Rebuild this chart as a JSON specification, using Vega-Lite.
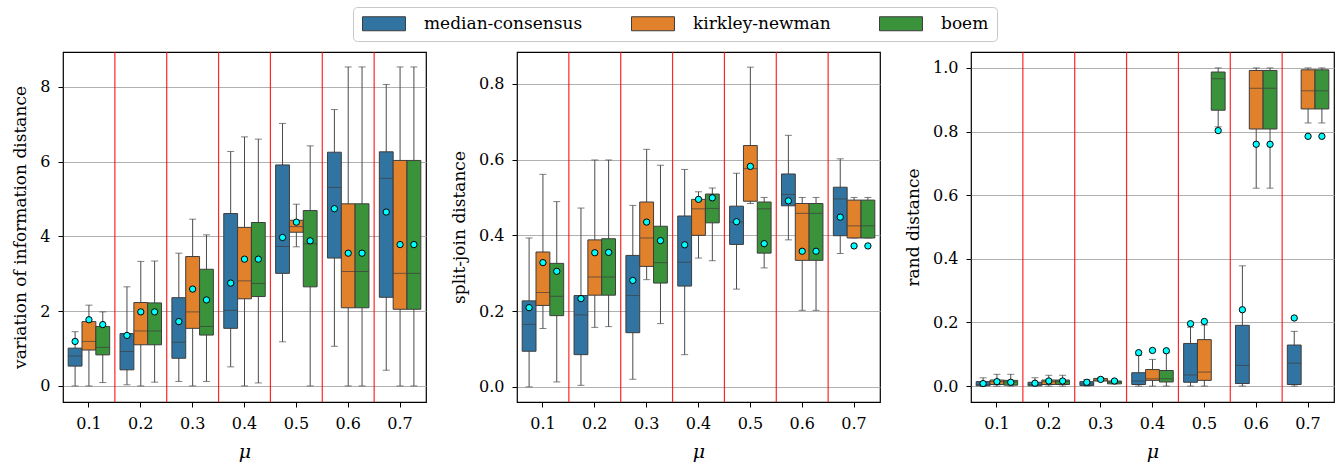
{
"$schema": "https://vega.github.io/schema/vega-lite/v6.json",
"padding": {"left": 11, "top": 6, "right": 2, "bottom": 3},
"bounds": "flush",
"spacing": 91,
"datasets": {
"sep": [{"mu":"0.1"},{"mu":"0.2"},{"mu":"0.3"},{"mu":"0.4"},{"mu":"0.5"},{"mu":"0.6"}],
"vi": [
{"mu":"0.1","method":"median-consensus","lo":0,"q1":0.53,"med":0.80,"q3":1.01,"hi":1.45,"mean":1.19},
{"mu":"0.1","method":"kirkley-newman","lo":0,"q1":0.96,"med":1.19,"q3":1.72,"hi":2.16,"mean":1.77},
{"mu":"0.1","method":"boem","lo":0.09,"q1":0.83,"med":1.03,"q3":1.59,"hi":1.98,"mean":1.64},
{"mu":"0.2","method":"median-consensus","lo":0.03,"q1":0.43,"med":0.92,"q3":1.40,"hi":2.65,"mean":1.35},
{"mu":"0.2","method":"kirkley-newman","lo":0,"q1":1.10,"med":1.47,"q3":2.23,"hi":3.33,"mean":1.98},
{"mu":"0.2","method":"boem","lo":0.10,"q1":1.10,"med":1.47,"q3":2.22,"hi":3.34,"mean":1.98},
{"mu":"0.3","method":"median-consensus","lo":0.12,"q1":0.74,"med":1.17,"q3":2.36,"hi":3.55,"mean":1.72},
{"mu":"0.3","method":"kirkley-newman","lo":0,"q1":1.54,"med":1.98,"q3":3.46,"hi":4.46,"mean":2.59},
{"mu":"0.3","method":"boem","lo":0.12,"q1":1.36,"med":1.59,"q3":3.12,"hi":4.04,"mean":2.30},
{"mu":"0.4","method":"median-consensus","lo":0.51,"q1":1.54,"med":2.02,"q3":4.61,"hi":6.27,"mean":2.75},
{"mu":"0.4","method":"kirkley-newman","lo":0,"q1":2.33,"med":2.81,"q3":4.24,"hi":6.66,"mean":3.39},
{"mu":"0.4","method":"boem","lo":0.08,"q1":2.39,"med":2.74,"q3":4.37,"hi":6.60,"mean":3.39},
{"mu":"0.5","method":"median-consensus","lo":1.18,"q1":3.01,"med":3.73,"q3":5.91,"hi":7.02,"mean":3.97},
{"mu":"0.5","method":"kirkley-newman","lo":3.72,"q1":4.11,"med":4.26,"q3":4.43,"hi":4.86,"mean":4.38},
{"mu":"0.5","method":"boem","lo":0,"q1":2.65,"med":3.80,"q3":4.69,"hi":6.42,"mean":3.88},
{"mu":"0.6","method":"median-consensus","lo":1.06,"q1":3.42,"med":5.31,"q3":6.25,"hi":7.39,"mean":4.74},
{"mu":"0.6","method":"kirkley-newman","lo":0,"q1":2.09,"med":3.06,"q3":4.87,"hi":8.53,"mean":3.55},
{"mu":"0.6","method":"boem","lo":0,"q1":2.09,"med":3.06,"q3":4.87,"hi":8.53,"mean":3.55},
{"mu":"0.7","method":"median-consensus","lo":0.42,"q1":2.37,"med":5.55,"q3":6.26,"hi":8.06,"mean":4.65},
{"mu":"0.7","method":"kirkley-newman","lo":0,"q1":2.05,"med":3.01,"q3":6.03,"hi":8.53,"mean":3.78},
{"mu":"0.7","method":"boem","lo":0,"q1":2.05,"med":3.01,"q3":6.03,"hi":8.53,"mean":3.78}
],
"sj": [
{"mu":"0.1","method":"median-consensus","lo":0,"q1":0.094,"med":0.165,"q3":0.227,"hi":0.393,"mean":0.209},
{"mu":"0.1","method":"kirkley-newman","lo":0.154,"q1":0.215,"med":0.249,"q3":0.356,"hi":0.561,"mean":0.328},
{"mu":"0.1","method":"boem","lo":0.013,"q1":0.188,"med":0.239,"q3":0.326,"hi":0.489,"mean":0.305},
{"mu":"0.2","method":"median-consensus","lo":0.004,"q1":0.085,"med":0.190,"q3":0.241,"hi":0.472,"mean":0.233},
{"mu":"0.2","method":"kirkley-newman","lo":0.157,"q1":0.242,"med":0.290,"q3":0.388,"hi":0.599,"mean":0.354},
{"mu":"0.2","method":"boem","lo":0.159,"q1":0.242,"med":0.290,"q3":0.391,"hi":0.599,"mean":0.355},
{"mu":"0.3","method":"median-consensus","lo":0.020,"q1":0.143,"med":0.241,"q3":0.347,"hi":0.479,"mean":0.281},
{"mu":"0.3","method":"kirkley-newman","lo":0.283,"q1":0.318,"med":0.393,"q3":0.488,"hi":0.627,"mean":0.435},
{"mu":"0.3","method":"boem","lo":0.167,"q1":0.274,"med":0.328,"q3":0.424,"hi":0.585,"mean":0.386},
{"mu":"0.4","method":"median-consensus","lo":0.085,"q1":0.266,"med":0.329,"q3":0.451,"hi":0.574,"mean":0.375},
{"mu":"0.4","method":"kirkley-newman","lo":0.340,"q1":0.400,"med":0.470,"q3":0.495,"hi":0.515,"mean":0.495},
{"mu":"0.4","method":"boem","lo":0.333,"q1":0.433,"med":0.471,"q3":0.509,"hi":0.525,"mean":0.499},
{"mu":"0.5","method":"median-consensus","lo":0.258,"q1":0.376,"med":0.435,"q3":0.477,"hi":0.564,"mean":0.436},
{"mu":"0.5","method":"kirkley-newman","lo":0.484,"q1":0.490,"med":0.576,"q3":0.637,"hi":0.844,"mean":0.582},
{"mu":"0.5","method":"boem","lo":0.314,"q1":0.353,"med":0.470,"q3":0.488,"hi":0.500,"mean":0.378},
{"mu":"0.6","method":"median-consensus","lo":0.388,"q1":0.478,"med":0.508,"q3":0.562,"hi":0.664,"mean":0.491},
{"mu":"0.6","method":"kirkley-newman","lo":0.202,"q1":0.334,"med":0.458,"q3":0.484,"hi":0.500,"mean":0.358},
{"mu":"0.6","method":"boem","lo":0.202,"q1":0.334,"med":0.458,"q3":0.484,"hi":0.500,"mean":0.358},
{"mu":"0.7","method":"median-consensus","lo":0.352,"q1":0.399,"med":0.496,"q3":0.527,"hi":0.602,"mean":0.448},
{"mu":"0.7","method":"kirkley-newman","lo":0.393,"q1":0.393,"med":0.425,"q3":0.493,"hi":0.500,"mean":0.372},
{"mu":"0.7","method":"boem","lo":0.393,"q1":0.393,"med":0.425,"q3":0.493,"hi":0.500,"mean":0.372}
],
"rd": [
{"mu":"0.1","method":"median-consensus","lo":0,"q1":0.001,"med":0.005,"q3":0.014,"hi":0.026,"mean":0.008},
{"mu":"0.1","method":"kirkley-newman","lo":0,"q1":0.005,"med":0.014,"q3":0.019,"hi":0.037,"mean":0.014},
{"mu":"0.1","method":"boem","lo":0,"q1":0.003,"med":0.013,"q3":0.018,"hi":0.037,"mean":0.012},
{"mu":"0.2","method":"median-consensus","lo":0,"q1":0.001,"med":0.005,"q3":0.012,"hi":0.026,"mean":0.009},
{"mu":"0.2","method":"kirkley-newman","lo":0,"q1":0.005,"med":0.014,"q3":0.019,"hi":0.034,"mean":0.016},
{"mu":"0.2","method":"boem","lo":0,"q1":0.005,"med":0.014,"q3":0.019,"hi":0.034,"mean":0.016},
{"mu":"0.3","method":"median-consensus","lo":0,"q1":0.002,"med":0.007,"q3":0.014,"hi":0.020,"mean":0.012},
{"mu":"0.3","method":"kirkley-newman","lo":0.016,"q1":0.016,"med":0.019,"q3":0.024,"hi":0.026,"mean":0.021},
{"mu":"0.3","method":"boem","lo":0.007,"q1":0.007,"med":0.012,"q3":0.016,"hi":0.019,"mean":0.016},
{"mu":"0.4","method":"median-consensus","lo":0,"q1":0.005,"med":0.016,"q3":0.042,"hi":0.097,"mean":0.105},
{"mu":"0.4","method":"kirkley-newman","lo":0,"q1":0.018,"med":0.023,"q3":0.052,"hi":0.084,"mean":0.112},
{"mu":"0.4","method":"boem","lo":0,"q1":0.013,"med":0.023,"q3":0.049,"hi":0.105,"mean":0.111},
{"mu":"0.5","method":"median-consensus","lo":0,"q1":0.012,"med":0.035,"q3":0.134,"hi":0.185,"mean":0.196},
{"mu":"0.5","method":"kirkley-newman","lo":0,"q1":0.018,"med":0.044,"q3":0.146,"hi":0.192,"mean":0.203},
{"mu":"0.5","method":"boem","lo":0.815,"q1":0.867,"med":0.966,"q3":0.987,"hi":1.0,"mean":0.803},
{"mu":"0.6","method":"median-consensus","lo":0,"q1":0.008,"med":0.065,"q3":0.191,"hi":0.378,"mean":0.240},
{"mu":"0.6","method":"kirkley-newman","lo":0.622,"q1":0.808,"med":0.936,"q3":0.992,"hi":1.0,"mean":0.760},
{"mu":"0.6","method":"boem","lo":0.622,"q1":0.808,"med":0.936,"q3":0.992,"hi":1.0,"mean":0.760},
{"mu":"0.7","method":"median-consensus","lo":0,"q1":0.005,"med":0.072,"q3":0.129,"hi":0.172,"mean":0.214},
{"mu":"0.7","method":"kirkley-newman","lo":0.827,"q1":0.871,"med":0.928,"q3":0.994,"hi":1.0,"mean":0.785},
{"mu":"0.7","method":"boem","lo":0.827,"q1":0.871,"med":0.928,"q3":0.994,"hi":1.0,"mean":0.785}
]
},
"hconcat": [
{
"width": 363, "height": 350,
"layer": [
{"data": {"name": "sep"}, "mark": {"type": "rule", "color": "#ff0000", "strokeWidth": 1.2, "opacity": 0.85},
 "encoding": {"x": {"field": "mu", "type": "ordinal", "bandPosition": 1, "title": "μ", "scale": {"domain": ["0.1","0.2","0.3","0.4","0.5","0.6","0.7"], "paddingInner": 0, "paddingOuter": 0}}}},
{"data": {"name": "vi"},
 "encoding": {
  "x": {"field": "mu", "type": "ordinal", "title": "μ", "scale": {"domain": ["0.1","0.2","0.3","0.4","0.5","0.6","0.7"], "paddingInner": 0, "paddingOuter": 0}},
  "xOffset": {"field": "method", "type": "nominal", "scale": {"domain": ["median-consensus","kirkley-newman","boem"], "paddingInner": 0, "paddingOuter": 0.375}}
 },
 "layer": [
  {"mark": {"type": "rule", "color": "#4a4a4a", "strokeWidth": 1}, "encoding": {"y": {"field": "lo", "type": "quantitative", "title": "variation of information distance", "scale": {"domain": [-0.43, 8.93], "nice": false, "zero": false}, "axis": {"values": [0,2,4,6,8]}}, "y2": {"field": "hi"}}},
  {"mark": {"type": "tick", "color": "#4a4a4a", "size": 7, "thickness": 1}, "encoding": {"y": {"field": "lo", "type": "quantitative", "title": "variation of information distance", "scale": {"domain": [-0.43, 8.93], "nice": false, "zero": false}}}},
  {"mark": {"type": "tick", "color": "#4a4a4a", "size": 7, "thickness": 1}, "encoding": {"y": {"field": "hi", "type": "quantitative", "title": "variation of information distance", "scale": {"domain": [-0.43, 8.93], "nice": false, "zero": false}}}},
  {"mark": {"type": "bar", "stroke": "#3d3d3d", "strokeWidth": 1, "opacity": 1}, "encoding": {"y": {"field": "q1", "type": "quantitative", "title": "variation of information distance", "scale": {"domain": [-0.43, 8.93], "nice": false, "zero": false}}, "y2": {"field": "q3"},
    "color": {"field": "method", "type": "nominal", "scale": {"domain": ["median-consensus","kirkley-newman","boem"], "range": ["#3274a1","#e1812c","#3a923a"]}, "legend": {"orient": "none", "legendX": 290, "legendY": -45, "direction": "horizontal", "columns": 3, "title": null, "symbolType": "M-1,-1H5.14V1H-1Z", "symbolSize": 196, "symbolStrokeColor": "#3d3d3d", "symbolStrokeWidth": 1, "symbolOpacity": 1, "labelFont": "DejaVu Serif", "labelFontSize": 17, "labelColor": "black", "labelOffset": 46, "columnPadding": 46, "padding": 8, "strokeColor": "#c8c8c8", "fillColor": "white", "cornerRadius": 4}}}},
  {"mark": {"type": "tick", "color": "#3d3d3d", "size": 13.8, "thickness": 1}, "encoding": {"y": {"field": "med", "type": "quantitative", "title": "variation of information distance", "scale": {"domain": [-0.43, 8.93], "nice": false, "zero": false}}}},
  {"mark": {"type": "point", "filled": true, "fill": "#00ffff", "stroke": "#000000", "strokeWidth": 1, "size": 40, "opacity": 1}, "encoding": {"y": {"field": "mean", "type": "quantitative", "title": "variation of information distance", "scale": {"domain": [-0.43, 8.93], "nice": false, "zero": false}}}}
 ]}
]
},
{
"width": 363, "height": 350,
"layer": [
{"data": {"name": "sep"}, "mark": {"type": "rule", "color": "#ff0000", "strokeWidth": 1.2, "opacity": 0.85},
 "encoding": {"x": {"field": "mu", "type": "ordinal", "bandPosition": 1, "title": "μ", "scale": {"domain": ["0.1","0.2","0.3","0.4","0.5","0.6","0.7"], "paddingInner": 0, "paddingOuter": 0}}}},
{"data": {"name": "sj"},
 "encoding": {
  "x": {"field": "mu", "type": "ordinal", "title": "μ", "scale": {"domain": ["0.1","0.2","0.3","0.4","0.5","0.6","0.7"], "paddingInner": 0, "paddingOuter": 0}},
  "xOffset": {"field": "method", "type": "nominal", "scale": {"domain": ["median-consensus","kirkley-newman","boem"], "paddingInner": 0, "paddingOuter": 0.375}}
 },
 "layer": [
  {"mark": {"type": "rule", "color": "#4a4a4a", "strokeWidth": 1}, "encoding": {"y": {"field": "lo", "type": "quantitative", "title": "split-join distance", "scale": {"domain": [-0.04, 0.884], "nice": false, "zero": false}, "axis": {"values": [0,0.2,0.4,0.6,0.8], "format": ".1f"}}, "y2": {"field": "hi"}}},
  {"mark": {"type": "tick", "color": "#4a4a4a", "size": 7, "thickness": 1}, "encoding": {"y": {"field": "lo", "type": "quantitative", "title": "split-join distance", "scale": {"domain": [-0.04, 0.884], "nice": false, "zero": false}}}},
  {"mark": {"type": "tick", "color": "#4a4a4a", "size": 7, "thickness": 1}, "encoding": {"y": {"field": "hi", "type": "quantitative", "title": "split-join distance", "scale": {"domain": [-0.04, 0.884], "nice": false, "zero": false}}}},
  {"mark": {"type": "bar", "stroke": "#3d3d3d", "strokeWidth": 1, "opacity": 1}, "encoding": {"y": {"field": "q1", "type": "quantitative", "title": "split-join distance", "scale": {"domain": [-0.04, 0.884], "nice": false, "zero": false}}, "y2": {"field": "q3"},
    "color": {"field": "method", "type": "nominal", "scale": {"domain": ["median-consensus","kirkley-newman","boem"], "range": ["#3274a1","#e1812c","#3a923a"]}, "legend": {"orient": "none", "legendX": 290, "legendY": -45, "direction": "horizontal", "columns": 3, "title": null, "symbolType": "M-1,-1H5.14V1H-1Z", "symbolSize": 196, "symbolStrokeColor": "#3d3d3d", "symbolStrokeWidth": 1, "symbolOpacity": 1, "labelFont": "DejaVu Serif", "labelFontSize": 17, "labelColor": "black", "labelOffset": 46, "columnPadding": 46, "padding": 8, "strokeColor": "#c8c8c8", "fillColor": "white", "cornerRadius": 4}}}},
  {"mark": {"type": "tick", "color": "#3d3d3d", "size": 13.8, "thickness": 1}, "encoding": {"y": {"field": "med", "type": "quantitative", "title": "split-join distance", "scale": {"domain": [-0.04, 0.884], "nice": false, "zero": false}}}},
  {"mark": {"type": "point", "filled": true, "fill": "#00ffff", "stroke": "#000000", "strokeWidth": 1, "size": 40, "opacity": 1}, "encoding": {"y": {"field": "mean", "type": "quantitative", "title": "split-join distance", "scale": {"domain": [-0.04, 0.884], "nice": false, "zero": false}}}}
 ]}
]
},
{
"width": 363, "height": 350,
"layer": [
{"data": {"name": "sep"}, "mark": {"type": "rule", "color": "#ff0000", "strokeWidth": 1.2, "opacity": 0.85},
 "encoding": {"x": {"field": "mu", "type": "ordinal", "bandPosition": 1, "title": "μ", "scale": {"domain": ["0.1","0.2","0.3","0.4","0.5","0.6","0.7"], "paddingInner": 0, "paddingOuter": 0}}}},
{"data": {"name": "rd"},
 "encoding": {
  "x": {"field": "mu", "type": "ordinal", "title": "μ", "scale": {"domain": ["0.1","0.2","0.3","0.4","0.5","0.6","0.7"], "paddingInner": 0, "paddingOuter": 0}},
  "xOffset": {"field": "method", "type": "nominal", "scale": {"domain": ["median-consensus","kirkley-newman","boem"], "paddingInner": 0, "paddingOuter": 0.375}}
 },
 "layer": [
  {"mark": {"type": "rule", "color": "#4a4a4a", "strokeWidth": 1}, "encoding": {"y": {"field": "lo", "type": "quantitative", "title": "rand distance", "scale": {"domain": [-0.05, 1.05], "nice": false, "zero": false}, "axis": {"values": [0,0.2,0.4,0.6,0.8,1.0], "format": ".1f"}}, "y2": {"field": "hi"}}},
  {"mark": {"type": "tick", "color": "#4a4a4a", "size": 7, "thickness": 1}, "encoding": {"y": {"field": "lo", "type": "quantitative", "title": "rand distance", "scale": {"domain": [-0.05, 1.05], "nice": false, "zero": false}}}},
  {"mark": {"type": "tick", "color": "#4a4a4a", "size": 7, "thickness": 1}, "encoding": {"y": {"field": "hi", "type": "quantitative", "title": "rand distance", "scale": {"domain": [-0.05, 1.05], "nice": false, "zero": false}}}},
  {"mark": {"type": "bar", "stroke": "#3d3d3d", "strokeWidth": 1, "opacity": 1}, "encoding": {"y": {"field": "q1", "type": "quantitative", "title": "rand distance", "scale": {"domain": [-0.05, 1.05], "nice": false, "zero": false}}, "y2": {"field": "q3"},
    "color": {"field": "method", "type": "nominal", "scale": {"domain": ["median-consensus","kirkley-newman","boem"], "range": ["#3274a1","#e1812c","#3a923a"]}, "legend": {"orient": "none", "legendX": 290, "legendY": -45, "direction": "horizontal", "columns": 3, "title": null, "symbolType": "M-1,-1H5.14V1H-1Z", "symbolSize": 196, "symbolStrokeColor": "#3d3d3d", "symbolStrokeWidth": 1, "symbolOpacity": 1, "labelFont": "DejaVu Serif", "labelFontSize": 17, "labelColor": "black", "labelOffset": 46, "columnPadding": 46, "padding": 8, "strokeColor": "#c8c8c8", "fillColor": "white", "cornerRadius": 4}}}},
  {"mark": {"type": "tick", "color": "#3d3d3d", "size": 13.8, "thickness": 1}, "encoding": {"y": {"field": "med", "type": "quantitative", "title": "rand distance", "scale": {"domain": [-0.05, 1.05], "nice": false, "zero": false}}}},
  {"mark": {"type": "point", "filled": true, "fill": "#00ffff", "stroke": "#000000", "strokeWidth": 1, "size": 40, "opacity": 1}, "encoding": {"y": {"field": "mean", "type": "quantitative", "title": "rand distance", "scale": {"domain": [-0.05, 1.05], "nice": false, "zero": false}}}}
 ]}
]
}
],
"config": {
 "font": "DejaVu Serif",
 "background": "white",
 "view": {"stroke": "#000000", "strokeWidth": 1.2},
 "axis": {"labelFont": "DejaVu Serif", "labelFontSize": 16, "labelColor": "black", "titleFont": "DejaVu Serif", "titleFontSize": 17, "titleFontWeight": "normal", "titleColor": "black", "tickColor": "black", "tickSize": 5, "tickWidth": 1, "domain": false, "labelPadding": 8},
 "axisX": {"grid": false, "labelAngle": 0, "titleFontStyle": "italic", "titleFontSize": 19, "titlePadding": 11},
 "axisY": {"grid": true, "gridColor": "#b0b0b0", "gridWidth": 1.2, "gridOpacity": 1, "titlePadding": 10},
 "legend": {"labelFont": "DejaVu Serif"}
}
}
